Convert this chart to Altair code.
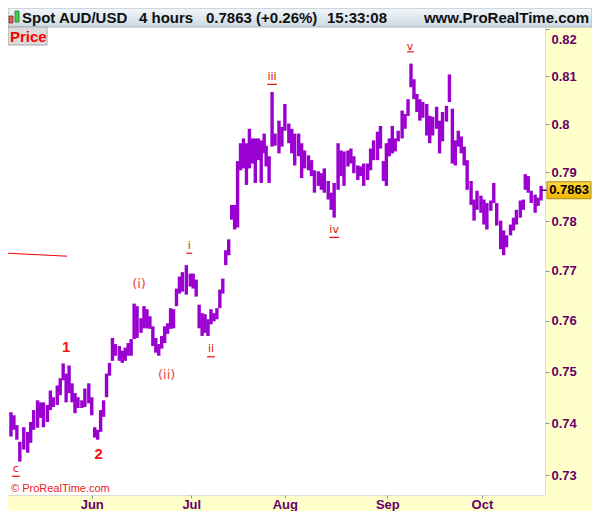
import altair as alt
import pandas as pd

# ---------------- data ----------------
# position of each 4-hour bar group along the time axis (session index units)
bar_t = [3, 6, 9, 12, 16, 20, 23, 26, 30, 33, 36, 40, 43, 46, 50, 53, 56, 59, 62, 65,
         68, 71, 75, 78, 82, 85, 88, 91, 94, 97, 100, 103, 106, 109, 113, 116, 119, 122, 125, 128,
         131, 135, 138, 141, 144, 147, 150, 153, 156, 159, 162, 165, 168, 171, 174, 177, 181, 185, 188, 191,
         194, 197, 200, 203, 206, 209, 212, 215, 218, 221, 224, 227, 230, 233, 236, 239, 242, 245, 248, 251,
         254, 257, 260, 262, 265, 268, 271, 275, 278, 281, 285, 288, 291, 295, 298, 301, 305, 308, 311, 315,
         318, 321, 325, 328, 331, 335, 338, 341, 345, 348, 351, 355, 358, 361, 365, 368, 371, 375, 378, 381,
         384, 387, 390, 393, 396, 400, 403, 406, 409, 412, 415, 418, 421, 425, 428, 431, 435, 438, 441, 445,
         448, 451, 454, 457, 460, 463, 466, 470, 473, 476, 480, 483, 486, 490, 493, 496, 500, 503, 506, 510,
         513, 516, 520, 523, 525, 528, 531, 535, 538, 541]
bar_high = [0.7421, 0.7415, 0.7396, 0.7364, 0.7392, 0.7383, 0.7402, 0.7425, 0.7444, 0.7440,
            0.7440, 0.7435, 0.7463, 0.7450, 0.7473, 0.7487, 0.7516, 0.7496, 0.7512, 0.7477,
            0.7458, 0.7450, 0.7444, 0.7467, 0.7477, 0.7450, 0.7392, 0.7387, 0.7425, 0.7444,
            0.7496, 0.7517, 0.7566, 0.7554, 0.7550, 0.7541, 0.7547, 0.7556, 0.7564, 0.7634,
            0.7629, 0.7605, 0.7629, 0.7623, 0.7609, 0.7589, 0.7566, 0.7554, 0.7570, 0.7589,
            0.7595, 0.7625, 0.7623, 0.7664, 0.7688, 0.7697, 0.7711, 0.7694, 0.7694, 0.7682,
            0.7632, 0.7615, 0.7613, 0.7603, 0.7623, 0.7615, 0.7625, 0.7662, 0.7684, 0.7741,
            0.7763, 0.7833, 0.7833, 0.7923, 0.7960, 0.7970, 0.7960, 0.7990, 0.7970, 0.7970,
            0.7970, 0.7966, 0.7980, 0.7955, 0.7933, 0.8067, 0.7980, 0.8007, 0.7994, 0.8042,
            0.8001, 0.7990, 0.7980, 0.7980, 0.7960, 0.7945, 0.7935, 0.7925, 0.7904, 0.7902,
            0.7898, 0.7908, 0.7882, 0.7858, 0.7878, 0.7960, 0.7945, 0.7943, 0.7945, 0.7949,
            0.7933, 0.7914, 0.7912, 0.7918, 0.7918, 0.7949, 0.7966, 0.7984, 0.7996, 0.7923,
            0.7960, 0.7970, 0.7996, 0.7970, 0.7986, 0.8028, 0.8021, 0.8052, 0.8127, 0.8094,
            0.8063, 0.8052, 0.8046, 0.8042, 0.8017, 0.8015, 0.8036, 0.8007, 0.8025, 0.8038,
            0.8104, 0.8032, 0.7966, 0.7986, 0.7974, 0.7953, 0.7925, 0.7882, 0.7844, 0.7862,
            0.7852, 0.7844, 0.7837, 0.7842, 0.7878, 0.7837, 0.7801, 0.7781, 0.7771, 0.7793,
            0.7807, 0.7823, 0.7842, 0.7844, 0.7896, 0.7892, 0.7862, 0.7854, 0.7848, 0.7872]
bar_low = [0.7374, 0.7387, 0.7368, 0.7326, 0.7349, 0.7343, 0.7362, 0.7387, 0.7391, 0.7410,
           0.7392, 0.7402, 0.7425, 0.7431, 0.7435, 0.7454, 0.7483, 0.7440, 0.7458, 0.7440,
           0.7419, 0.7429, 0.7429, 0.7431, 0.7438, 0.7415, 0.7372, 0.7368, 0.7383, 0.7412,
           0.7450, 0.7492, 0.7521, 0.7531, 0.7521, 0.7517, 0.7521, 0.7531, 0.7531, 0.7564,
           0.7566, 0.7576, 0.7585, 0.7585, 0.7584, 0.7550, 0.7537, 0.7531, 0.7545, 0.7556,
           0.7574, 0.7584, 0.7585, 0.7629, 0.7654, 0.7658, 0.7652, 0.7668, 0.7664, 0.7648,
           0.7585, 0.7570, 0.7576, 0.7570, 0.7593, 0.7599, 0.7603, 0.7625, 0.7654, 0.7711,
           0.7731, 0.7803, 0.7783, 0.7787, 0.7904, 0.7908, 0.7874, 0.7908, 0.7918, 0.7878,
           0.7925, 0.7878, 0.7939, 0.7912, 0.7878, 0.7953, 0.7955, 0.7939, 0.7953, 0.7986,
           0.7960, 0.7939, 0.7914, 0.7933, 0.7888, 0.7908, 0.7904, 0.7892, 0.7858, 0.7872,
           0.7864, 0.7858, 0.7844, 0.7823, 0.7807, 0.7864, 0.7892, 0.7872, 0.7912, 0.7918,
           0.7898, 0.7884, 0.7892, 0.7872, 0.7884, 0.7904, 0.7925, 0.7925, 0.7949, 0.7882,
           0.7872, 0.7933, 0.7939, 0.7943, 0.7964, 0.7970, 0.7990, 0.8017, 0.8077, 0.8052,
           0.8025, 0.8007, 0.8013, 0.7976, 0.7960, 0.7976, 0.7990, 0.7939, 0.7964, 0.8005,
           0.8046, 0.7918, 0.7914, 0.7953, 0.7939, 0.7914, 0.7864, 0.7833, 0.7801, 0.7823,
           0.7817, 0.7793, 0.7783, 0.7821, 0.7837, 0.7791, 0.7743, 0.7731, 0.7747, 0.7771,
           0.7781, 0.7793, 0.7807, 0.7823, 0.7864, 0.7858, 0.7837, 0.7817, 0.7831, 0.7842]

month_ticks = [85, 186, 281, 385, 481]
month_labels = ["Jun", "Jul", "Aug", "Sep", "Oct"]
price_ticks = [0.73, 0.74, 0.75, 0.76, 0.77, 0.78, 0.79, 0.80, 0.81, 0.82]
last_price = 0.7863
last_price_label = "0.7863"

header_items = ["Spot AUD/USD", "4 hours", "0.7863 (+0.26%)", "15:33:08"]

# Elliott wave annotations
digit_labels = ["1", "2"]
digit_t = [59, 92]
digit_p = [0.7549, 0.7340]
paren_labels = ["(i)", "(ii)"]
paren_t = [133, 161]
paren_p = [0.7674, 0.7494]
roman_labels = ["c", "i", "ii", "iii", "iv", "v"]
roman_t = [8, 184, 206, 268, 331, 408]
roman_p = [0.7311, 0.7749, 0.7545, 0.8098, 0.7781, 0.8163]
roman_ul_p = [0.7298, 0.7735, 0.7529, 0.8083, 0.7767, 0.8152]
roman_ul_left = [4, 181, 202, 263, 326, 405]
roman_ul_right = [12, 187, 210, 273, 336, 412]

# red trend segment at left
trend_t = [0, 60]
trend_p = [0.7735, 0.7729]

# ---------------- chart ----------------
W, H = 537, 468
TOP, BOTTOM, RIGHT = 19, 16, 47
FONT = "Liberation Sans"
PURPLE = "#9a00d0"
AXIS_TXT = "#660066"
RED = "#ff1010"

xs = alt.Scale(domain=[0, 545], nice=False, zero=False)
ys = alt.Scale(type="log", domain=[0.72625, 0.82049], nice=False)

bars_df = pd.DataFrame({"t": bar_t, "high": bar_high, "low": bar_low})

label_expr = " : ".join(
    f"datum.value == {v} ? '{l}'" for v, l in zip(month_ticks, month_labels)
) + " : ''"

x_axis = alt.Axis(values=month_ticks, labelExpr=label_expr, title=None, domain=False,
                  grid=False, tickSize=3, tickColor="#8a96a3", labelColor=AXIS_TXT,
                  labelFont=FONT, labelFontSize=13, labelFontWeight="bold", labelPadding=0)
y_axis = alt.Axis(orient="right", values=price_ticks, format="~g", title=None, domain=False,
                  grid=False, tickSize=4, tickColor="#8a96a3", labelColor=AXIS_TXT,
                  labelFont=FONT, labelFontSize=13, labelFontWeight="bold", labelPadding=2,
                  labelFlush=5, labelFlushOffset=-4, zindex=1)


def X(field):
    return alt.X(field, scale=xs, axis=x_axis)


def Y(field):
    return alt.Y(field, scale=ys, axis=y_axis)


one = pd.DataFrame({"k": [0]})

plot_bg = alt.Chart(one).mark_rect(fill="white").encode(
    x=alt.value(0), x2=alt.value(W), y=alt.value(0), y2=alt.value(H))

bars = alt.Chart(bars_df).mark_rule(color=PURPLE, strokeWidth=3.4).encode(
    x=X("t:Q"), y=Y("high:Q"), y2="low:Q")

trend = alt.Chart(pd.DataFrame({"t": trend_t, "p": trend_p})).mark_line(
    color="#ee0000", strokeWidth=1).encode(x=X("t:Q"), y=Y("p:Q"))

digits = alt.Chart(pd.DataFrame({"t": digit_t, "p": digit_p, "s": digit_labels})).mark_text(
    font=FONT, fontSize=15, fontWeight="bold", color=RED, baseline="middle").encode(
    x=X("t:Q"), y=Y("p:Q"), text="s:N")

parens = alt.Chart(pd.DataFrame({"t": paren_t, "p": paren_p, "s": paren_labels})).mark_text(
    font="DejaVu Sans", fontSize=13, color="#e8463c", baseline="middle").encode(
    x=X("t:Q"), y=Y("p:Q"), text="s:N")

romans = alt.Chart(pd.DataFrame({"t": roman_t, "p": roman_p, "s": roman_labels})).mark_text(
    font="DejaVu Sans", fontSize=11, color="#e01010", baseline="middle").encode(
    x=X("t:Q"), y=Y("p:Q"), text="s:N")

underlines = alt.Chart(pd.DataFrame({"a": roman_ul_left, "b": roman_ul_right, "p": roman_ul_p})).mark_rule(
    color="#ee1010", strokeWidth=1.2).encode(x=X("a:Q"), x2="b:Q", y=Y("p:Q"))

header_bg = alt.Chart(one).mark_rect(
    fill=alt.LinearGradient(gradient="linear",
                            stops=[alt.GradientStop(color="#f3f7fa", offset=0),
                                   alt.GradientStop(color="#ccd9e3", offset=1)],
                            x1=0, x2=0, y1=0, y2=1),
    stroke="#a9b6c1", strokeWidth=1).encode(
    x=alt.value(0), x2=alt.value(W + RIGHT), y=alt.value(-TOP), y2=alt.value(0))

icon_red = alt.Chart(one).mark_rect(fill="#e25a50", stroke="#8a2a24", strokeWidth=0.8).encode(
    x=alt.value(1), x2=alt.value(5), y=alt.value(-TOP + 8), y2=alt.value(-TOP + 15))
icon_green = alt.Chart(one).mark_rect(fill="#3fcf4a", stroke="#1d7a26", strokeWidth=0.8).encode(
    x=alt.value(7), x2=alt.value(11), y=alt.value(-TOP + 3), y2=alt.value(-TOP + 14))

header_x = [14, 131, 198, 319]
header_layers = []
for txt, hx in zip(header_items, header_x):
    header_layers.append(
        alt.Chart(pd.DataFrame({"s": [txt]})).mark_text(
            font=FONT, fontSize=15, fontWeight="bold", color="#111111",
            align="left", baseline="middle").encode(
            x=alt.value(hx), y=alt.value(-TOP / 2 + 0.5), text="s:N"))
header_layers.append(
    alt.Chart(pd.DataFrame({"s": ["www.ProRealTime.com"]})).mark_text(
        font=FONT, fontSize=15, fontWeight="bold", color="#111111",
        align="right", baseline="middle").encode(
        x=alt.value(W + RIGHT - 3), y=alt.value(-TOP / 2 + 0.5), text="s:N"))

price_box = alt.Chart(one).mark_rect(fill="#dcdcdc", stroke="#a8a8a8", strokeWidth=1).encode(
    x=alt.value(0), x2=alt.value(39), y=alt.value(0), y2=alt.value(18))
price_txt = alt.Chart(pd.DataFrame({"s": ["Price"]})).mark_text(
    font=FONT, fontSize=15, fontWeight="bold", color="#ff0000", align="left", baseline="middle").encode(
    x=alt.value(2), y=alt.value(9.5), text="s:N")

copyright_txt = alt.Chart(pd.DataFrame({"s": ["© ProRealTime.com"]})).mark_text(
    font=FONT, fontSize=11, color="#ee2020", align="left", baseline="middle").encode(
    x=alt.value(3), y=alt.value(H - 6), text="s:N")

marker_df = pd.DataFrame({"p": [last_price], "s": [last_price_label]})
marker_tick = alt.Chart(marker_df).mark_rule(color="#5a005a", strokeWidth=1.5).encode(
    x=alt.value(W - 4), x2=alt.value(W + 3), y=Y("p:Q"))
marker_box = alt.Chart(marker_df).mark_rect(
    fill=alt.LinearGradient(gradient="linear",
                            stops=[alt.GradientStop(color="#ffd93a", offset=0),
                                   alt.GradientStop(color="#f2b400", offset=1)],
                            x1=0, x2=0, y1=0, y2=1),
    stroke="#a88a2a", strokeWidth=1, yOffset=-8.5, y2Offset=8.5).encode(
    x=alt.value(W + 2), x2=alt.value(W + RIGHT - 1), y=Y("p:Q"), y2="p:Q")
marker_txt = alt.Chart(marker_df).mark_text(
    font=FONT, fontSize=13, fontWeight="bold", color="#000000", align="center", baseline="middle").encode(
    x=alt.value(W + (RIGHT + 1) / 2), y=Y("p:Q"), text="s:N")

chart = alt.layer(
    plot_bg, header_bg, icon_red, icon_green, *header_layers,
    bars, trend, underlines, digits, parens, romans,
    price_box, price_txt, copyright_txt,
    marker_tick, marker_box, marker_txt,
).properties(
    width=W, height=H,
    background="#ffffcc",
    padding={"left": 0, "top": TOP, "right": RIGHT, "bottom": BOTTOM},
    autosize=alt.AutoSizeParams(type="none"),
).configure_view(fill="white", stroke="#8f9aa5", strokeWidth=1).configure(font=FONT)

chart.save("out.html", embed_options={"renderer": "svg", "actions": False})
